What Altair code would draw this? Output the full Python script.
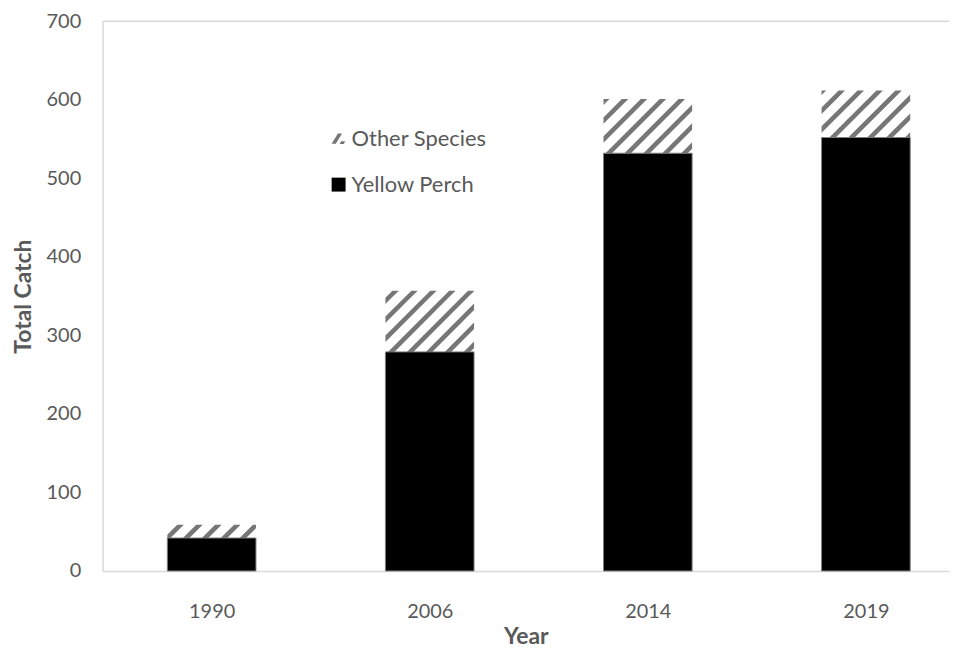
import math
import altair as alt
import pandas as pd

# ---- data ----
years = ["1990", "2006", "2014", "2019"]
yellow_perch = [42, 279, 532, 552]
other_species = [17, 78, 69, 60]
species_order = ["Other Species", "Yellow Perch"]

# ---- layout / style constants ----
W, H = 850, 552
BAND = 219.0                      # px per category
XMIN, XMAX = -0.5, W / BAND - 0.5
YMAX = 700
PXX = BAND
PXY = H / YMAX
HALF = 44.5 / BAND                # bar half width in x units
PERIOD = 19.0                     # hatch period (px)
STRIPE = 6.5                      # stripe vertical thickness (px)
GRAY_TXT = "#595959"
AXIS_LINE = "#d9d9d9"
HATCH = "#767676"

rows = []
for i, (yr, yp, ot) in enumerate(zip(years, yellow_perch, other_species)):
    rows.append(dict(idx=i, year=yr, species="Yellow Perch", y0=0, y1=yp,
                     x0=i - HALF, x1=i + HALF, ymid=yp / 2))
    rows.append(dict(idx=i, year=yr, species="Other Species", y0=yp, y1=yp + ot,
                     x0=i - HALF, x1=i + HALF, ymid=yp / 2))
df = pd.DataFrame(rows)

# hatch stripes ("/") as filled bands clipped to each Other Species segment
pts_rows = []
sid = 0
for r in rows:
    if r["species"] != "Other Species":
        continue
    L = (r["x0"] - XMIN) * PXX
    R = (r["x1"] - XMIN) * PXX
    B = r["y0"] * PXY
    T = r["y1"] * PXY
    kmin = math.floor((B - R - STRIPE) / PERIOD) - 1
    kmax = math.ceil((T - L) / PERIOD) + 1
    for k in range(kmin, kmax + 1):
        c = k * PERIOD + 3.0
        lo_x = max(L, B - c - STRIPE)
        hi_x = min(R, T - c)
        if hi_x - lo_x < 0.3:
            continue
        cands = [lo_x, hi_x] + [v for v in (B - c, B - c - STRIPE, T - c, T - c - STRIPE)
                                  if lo_x < v < hi_x]
        cands = sorted(set(cands))
        for xv in cands:
            lower = max(B, xv + c)
            upper = min(T, xv + c + STRIPE)
            if upper < lower:
                upper = lower
            pts_rows.append(dict(sid=sid, x=xv / PXX + XMIN, lo=lower / PXY, hi=upper / PXY))
        sid += 1
hatch_df = pd.DataFrame(pts_rows)

xscale = alt.Scale(domain=[XMIN, XMAX], nice=False, zero=False)
yscale = alt.Scale(domain=[0, YMAX], nice=False)

label_expr = "[" + ",".join("'%s'" % y for y in years) + "][datum.value]"

xaxis = alt.Axis(values=list(range(len(years))), labelExpr=label_expr, grid=False,
                 ticks=False, domainColor=AXIS_LINE, domainWidth=1.5,
                 labelFont="Lato", labelFontSize=20, labelColor=GRAY_TXT,
                 labelPadding=31, title="Year", titleFont="Lato", titleFontSize=23,
                 titleFontWeight="bold", titleColor=GRAY_TXT, titlePadding=4)
yaxis = alt.Axis(values=list(range(0, YMAX + 1, 100)), grid=False, ticks=False,
                 domainColor=AXIS_LINE, domainWidth=1.5,
                 labelFont="Lato", labelFontSize=20, labelColor=GRAY_TXT,
                 labelPadding=22, title="Total Catch", titleFont="Lato",
                 titleFontSize=23, titleFontWeight="bold", titleColor=GRAY_TXT,
                 titlePadding=11)

legend_shape_other = ("M-1,0.7L-0.1,-0.75L0.5,-0.75L-0.4,0.7Z "
                      "M0.35,0.35L0.95,0.35L0.75,0.75L0.15,0.75Z")

legend = alt.Legend(orient="none", legendX=226, legendY=107, title=None,
                    labelFont="Lato", labelFontSize=22, labelColor=GRAY_TXT,
                    symbolSize=196, symbolStrokeWidth=1, symbolStrokeColor="#7f7f7f",
                    symbolOpacity=1, rowPadding=24, labelOffset=2, padding=0)

base = alt.Chart(df)

# legend carrier points (hidden beneath the black bars)
pts = base.mark_point(filled=True, size=100, strokeWidth=0, opacity=1).encode(
    x=alt.X("idx:Q", scale=xscale, axis=xaxis),
    y=alt.Y("ymid:Q", scale=yscale, axis=yaxis),
    shape=alt.Shape("species:N", scale=alt.Scale(domain=species_order,
                    range=[legend_shape_other, "square"]), legend=legend),
    fill=alt.Fill("species:N", scale=alt.Scale(domain=species_order,
                  range=[HATCH, "#000000"]), legend=legend),
)

bars = base.transform_filter(alt.datum.species == "Yellow Perch").mark_bar(
    color="#000000", stroke="#7f7f7f", strokeWidth=1
).encode(
    x=alt.X("x0:Q", scale=xscale, axis=xaxis),
    x2="x1:Q",
    y=alt.Y("y0:Q", scale=yscale, axis=yaxis),
    y2="y1:Q",
)

hatch = alt.Chart(hatch_df).mark_area(color=HATCH, interpolate="linear").encode(
    x=alt.X("x:Q", scale=xscale, axis=xaxis),
    y=alt.Y("lo:Q", scale=yscale, axis=yaxis),
    y2="hi:Q",
    detail="sid:N",
)

top = alt.Chart(pd.DataFrame({"v": [YMAX]})).mark_rule(color=AXIS_LINE, strokeWidth=1.5).encode(
    y=alt.Y("v:Q", scale=yscale, axis=yaxis),
)

chart = alt.layer(pts, bars, hatch, top).properties(
    width=W, height=H,
    autosize=alt.AutoSizeParams(type="none"),
    padding={"left": 95, "top": 12, "right": 8, "bottom": 80},
).configure(font="Lato", background="#ffffff").configure_view(strokeWidth=0, strokeOpacity=0)

chart.save("out.html", embed_options={"renderer": "svg", "actions": False})
